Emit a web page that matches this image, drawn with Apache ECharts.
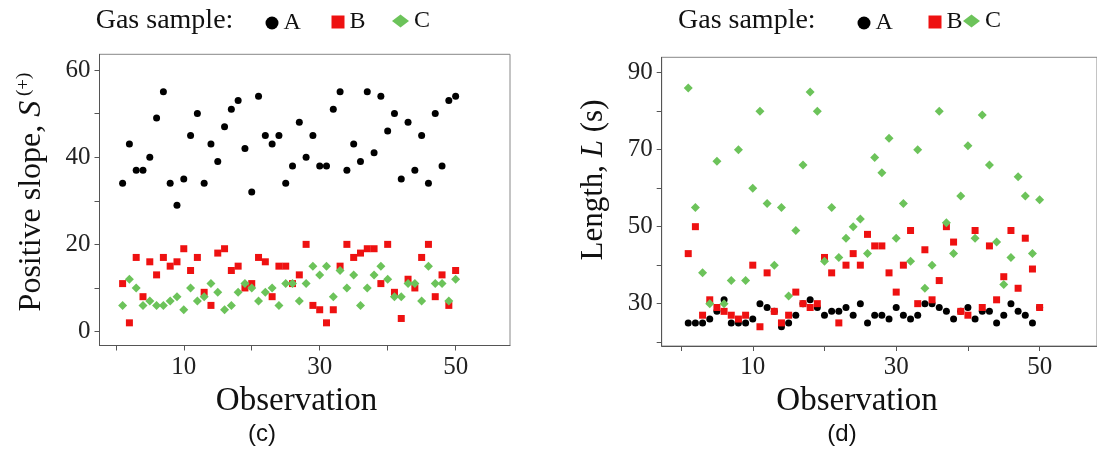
<!DOCTYPE html>
<html>
<head>
<meta charset="utf-8">
<script src="https://cdn.jsdelivr.net/npm/echarts@6/dist/echarts.min.js"></script>
<style>
html, body { margin: 0; padding: 0; background: #fff; }
#chart { width: 1097px; height: 450px; }
</style>
</head>
<body>
<div id="chart"></div>
<script>
// observation number (x) shared by both panels
const observation = [1, 2, 3, 4, 5, 6, 7, 8, 9, 10, 11, 12, 13, 14, 15, 16, 17, 18, 19, 20,
  21, 22, 23, 24, 25, 26, 27, 28, 29, 30, 31, 32, 33, 34, 35, 36, 37, 38, 39, 40,
  41, 42, 43, 44, 45, 46, 47, 48, 49, 50]

// (c) positive slope S(+)
const slopeA = [34, 43, 37, 37, 40, 49, 55, 34, 29, 35, 45, 50, 34, 43, 39, 47, 51, 53, 42, 32,
  54, 45, 43, 45, 34, 38, 48, 40, 45, 38, 38, 51, 55, 37, 43, 39, 55, 41, 54, 46,
  50, 35, 48, 37, 45, 34, 50, 38, 53, 54]
const slopeB = [11, 2, 17, 8, 16, 13, 17, 15, 16, 19, 14, 17, 9, 6, 18, 19, 14, 15, 10, 11,
  17, 16, 8, 15, 15, 11, 13, 20, 6, 5, 2, 5, 15, 20, 17, 18, 19, 19, 11, 20,
  9, 3, 12, 10, 17, 20, 8, 13, 6, 14]
const slopeC = [6, 12, 10, 6, 7, 6, 6, 7, 8, 5, 10, 7, 8, 11, 9, 5, 6, 9, 11, 10,
  7, 9, 10, 6, 11, 11, 7, 11, 15, 13, 15, 8, 14, 10, 13, 6, 10, 13, 15, 12,
  8, 8, 11, 11, 7, 15, 11, 11, 7, 12]

// (d) length L (s)
const lengthA = [25, 25, 25, 26, 28, 31, 25, 25, 25, 26, 30, 29, 28, 24, 25, 27, 30, 31, 29, 27,
  28, 28, 29, 27, 30, 25, 27, 27, 26, 29, 27, 26, 27, 30, 30, 29, 28, 26, 28, 29,
  26, 28, 28, 25, 27, 30, 28, 27, 25, 29]
const lengthB = [43, 50, 27, 31, 29, 28, 27, 26, 27, 40, 24, 38, 28, 25, 27, 33, 30, 29, 30, 42,
  38, 25, 40, 43, 40, 48, 45, 45, 38, 33, 40, 49, 30, 44, 31, 36, 50, 46, 28, 27,
  49, 29, 45, 31, 37, 49, 34, 47, 39, 29]
const lengthC = [86, 55, 38, 30, 67, 30, 36, 70, 36, 60, 80, 56, 40, 55, 32, 49, 66, 85, 80, 41,
  55, 42, 47, 50, 52, 43, 68, 64, 73, 47, 56, 41, 70, 34, 40, 80, 51, 43, 58, 71,
  47, 79, 66, 46, 35, 42, 63, 58, 43, 57]

// ticks and labels
const obsTicks = [0, 10, 20, 30, 40, 50]
const obsLabels = [10, 30, 50]
const slopeTicks = [0, 10, 20, 30, 40, 50, 60]
const slopeLabels = [0, 20, 40, 60]
const lengthTicks = [20, 30, 40, 50, 60, 70, 80, 90]
const lengthLabels = [30, 50, 70, 90]

const serif = 'Liberation Serif'
const axisColor = '#555'
const colA = '#000000'
const colB = '#ee1111'
const colC = '#6cc35a'

const pairs = (ys) => observation.map((x, i) => [x, ys[i]])

const makeX = (grid, min, ticks, labels) => ({
  gridIndex: grid,
  type: 'value',
  min: min,
  max: 58,
  axisLine: { show: true, onZero: false, lineStyle: { color: axisColor, width: 1 } },
  axisTick: { show: true, length: 5, customValues: ticks, lineStyle: { color: axisColor } },
  axisLabel: { customValues: labels, fontFamily: serif, fontSize: 25, color: '#222', margin: 9 },
  splitLine: { show: false }
})

const makeY = (grid, min, max, ticks, labels) => ({
  gridIndex: grid,
  type: 'value',
  min: min,
  max: max,
  axisLine: { show: true, onZero: false, lineStyle: { color: axisColor, width: 1 } },
  axisTick: { show: true, length: 5, customValues: ticks, lineStyle: { color: axisColor } },
  axisLabel: { customValues: labels, fontFamily: serif, fontSize: 25, color: '#222', margin: 9 },
  splitLine: { show: false }
})

const makeSeries = (name, axis, ys, symbol, size, color) => ({
  name: name,
  type: 'scatter',
  xAxisIndex: axis,
  yAxisIndex: axis,
  data: pairs(ys),
  symbol: symbol,
  symbolSize: size,
  itemStyle: { color: color, opacity: 1 }
})

const legendText = { fontFamily: serif, fontSize: 24, color: '#111' }
const makeLegend = (name, icon, left, top, w, h) => ({
  data: [name],
  icon: icon,
  left: left,
  top: top,
  itemWidth: w,
  itemHeight: h,
  padding: 0,
  selectedMode: false,
  textStyle: legendText
})

const text = (str, x, y, size, family, extra) => Object.assign({
  type: 'text',
  x: x,
  y: y,
  style: {
    text: str,
    fontFamily: family,
    fontSize: size,
    fill: '#111',
    align: 'center',
    verticalAlign: 'middle'
  }
}, extra || {})

const chart = echarts.init(document.getElementById('chart'))

const option = {
  animation: false,
  grid: [
    { left: 99.5, top: 54.3, width: 410.5, height: 291.2, show: true, borderColor: '#888', borderWidth: 1 },
    { left: 661.7, top: 57.3, width: 444, height: 288.7, show: true, borderColor: '#888', borderWidth: 1 }
  ],
  xAxis: [
    makeX(0, -2.4, obsTicks, obsLabels),
    makeX(1, -2.7, obsTicks, obsLabels)
  ],
  yAxis: [
    makeY(0, -3.2, 63.6, slopeTicks, slopeLabels),
    makeY(1, 19, 94, lengthTicks, lengthLabels)
  ],
  legend: [
    makeLegend('A', 'circle', 265.5, 11, 13, 13),
    makeLegend('B', 'rect', 331.5, 10, 13, 13),
    makeLegend('C', 'diamond', 392, 9, 17, 13),
    makeLegend('A', 'circle', 857.5, 11, 13, 13),
    makeLegend('B', 'rect', 928.5, 10, 13, 13),
    makeLegend('C', 'diamond', 963, 9, 17, 13)
  ],
  graphic: [
    text('Gas sample:', 95.7, 21, 28, serif, { style: { text: 'Gas sample:', fontFamily: serif, fontSize: 28, fill: '#111', align: 'left', verticalAlign: 'middle' } }),
    text('Gas sample:', 678, 21, 28, serif, { style: { text: 'Gas sample:', fontFamily: serif, fontSize: 28, fill: '#111', align: 'left', verticalAlign: 'middle' } }),
    text('Observation', 296.5, 401, 33, serif),
    text('Observation', 857, 401, 33, serif),
    text('(c)', 262, 434, 24, 'Liberation Sans'),
    text('(d)', 842, 434, 24, 'Liberation Sans'),
    {
      type: 'text',
      x: 32,
      y: 192,
      rotation: Math.PI / 2,
      style: {
        text: '{m|Positive slope, }{i|S}{s| (+)}',
        align: 'center',
        verticalAlign: 'middle',
        rich: {
          m: { fontFamily: serif, fontSize: 32, fill: '#111', lineHeight: 34 },
          i: { fontFamily: serif, fontSize: 32, fontStyle: 'italic', fill: '#111', lineHeight: 34 },
          s: { fontFamily: serif, fontSize: 19, fill: '#111', lineHeight: 20, verticalAlign: 'top' }
        }
      }
    },
    {
      type: 'text',
      x: 594,
      y: 180,
      rotation: Math.PI / 2,
      style: {
        text: '{m|Length, }{i|L}{m| (s)}',
        align: 'center',
        verticalAlign: 'middle',
        rich: {
          m: { fontFamily: serif, fontSize: 31, fill: '#111', lineHeight: 34 },
          i: { fontFamily: serif, fontSize: 31, fontStyle: 'italic', fill: '#111', lineHeight: 34 }
        }
      }
    }
  ],
  series: [
    makeSeries('A', 0, slopeA, 'circle', 7, colA),
    makeSeries('B', 0, slopeB, 'rect', 7, colB),
    makeSeries('C', 0, slopeC, 'diamond', 9, colC),
    makeSeries('A', 1, lengthA, 'circle', 7, colA),
    makeSeries('B', 1, lengthB, 'rect', 7, colB),
    makeSeries('C', 1, lengthC, 'diamond', 9, colC)
  ]
}

chart.setOption(option)
</script>
</body>
</html>
